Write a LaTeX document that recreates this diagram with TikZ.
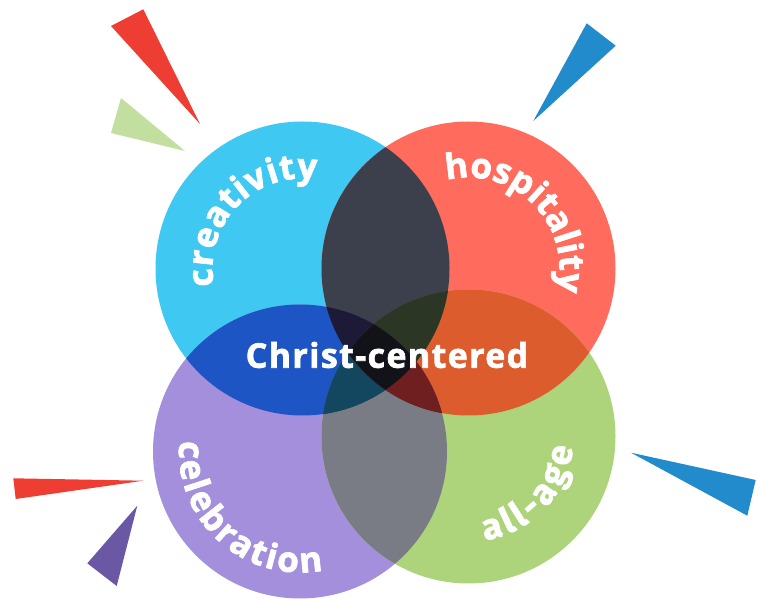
\documentclass[tikz,border=0pt]{standalone}
\usepackage{fontspec}
\setmainfont{Open Sans}[BoldFont={Open Sans Bold},BoldFeatures={FakeBold=2}]
\newfontfamily\firafont{Fira Sans}[BoldFont={Fira Sans Bold},BoldFeatures={FakeBold=1.5}]
\usetikzlibrary{decorations.text}

\definecolor{skyblue}{HTML}{3EC8F2}
\definecolor{salmon}{HTML}{FF6B5C}
\definecolor{lavender}{HTML}{A38FDC}
\definecolor{leafgreen}{HTML}{ADD37B}
\definecolor{slate}{HTML}{3C404C}
\definecolor{royal}{HTML}{1D55C4}
\definecolor{rust}{HTML}{DC5C2D}
\definecolor{stone}{HTML}{797C84}
\definecolor{moss}{HTML}{24402F}
\definecolor{plum}{HTML}{4A2035}
\definecolor{darkmoss}{HTML}{2B3625}
\definecolor{navy}{HTML}{1D1A38}
\definecolor{teal}{HTML}{13465F}
\definecolor{wine}{HTML}{6F1F20}
\definecolor{ink}{HTML}{111319}
\definecolor{spikered}{HTML}{EE3E33}
\definecolor{spikegreen}{HTML}{C2DFA0}
\definecolor{spikeblue}{HTML}{218BCB}
\definecolor{spikepurple}{HTML}{6A58A5}

\begin{document}
\begin{tikzpicture}[x=1pt,y=1pt,
    word/.style={decorate,decoration={text along path,text align=fit to path,
      text color=white,text={#1}}},
    bigword/.style={text=white,font=\bfseries\fontsize{34}{34}\selectfont\addfontfeature{LetterSpace=4}}]
  \useasboundingbox (0,0) rectangle (763,600);
  % spikes
  \fill[spikered] (111,574) -- (143.3,590.7) -- (200,476) -- cycle;
  \fill[spikegreen] (121,502) -- (111,467) -- (185,449) -- cycle;
  \fill[spikeblue] (586.7,576.7) -- (615.7,554.3) -- (533.3,479) -- cycle;
  \fill[spikered] (13.3,121.7) -- (15.7,101) -- (143.3,119.3) -- cycle;
  \fill[spikepurple] (137.3,94.3) -- (87.3,36.7) -- (116.7,14) -- cycle;
  \fill[spikeblue] (631,147.3) -- (755.7,120) -- (747.3,84.3) -- cycle;
  % circles
  \coordinate (cre) at (302.5,331.5);
  \coordinate (hos) at (468.5,331.5);
  \coordinate (cel) at (300,148.5);
  \coordinate (age) at (468.5,163.5);
  \foreach \p/\col in {cre/skyblue,hos/salmon,cel/lavender,age/leafgreen}
    \fill[\col] (\p) circle[radius=147pt];
  % overlaps of two
  \foreach \a/\b/\col in {cre/hos/slate,cre/cel/royal,hos/age/rust,cel/age/stone,cre/age/moss,hos/cel/plum}
  {\begin{scope}
    \clip (\a) circle[radius=147pt];
    \fill[\col] (\b) circle[radius=147pt];
  \end{scope}}
  % overlaps of three
  \foreach \a/\b/\d/\col in {cre/hos/age/darkmoss,cre/hos/cel/navy,cre/cel/age/teal,hos/cel/age/wine}
  {\begin{scope}
    \clip (\a) circle[radius=147pt];
    \clip (\b) circle[radius=147pt];
    \fill[\col] (\d) circle[radius=147pt];
  \end{scope}}
  % all four
  \begin{scope}
    \clip (cre) circle[radius=147pt];
    \clip (hos) circle[radius=147pt];
    \clip (cel) circle[radius=147pt];
    \fill[ink] (age) circle[radius=147pt];
  \end{scope}
  % words
  \path[word={|\bfseries\fontsize{35}{35}\selectfont|creativity},shift={(cre)}]
    (191:90) arc[start angle=191,end angle=81,radius=90];
  \path[word={|\bfseries\fontsize{35}{35}\selectfont|hospitality},shift={(hos)}]
    (104:91) arc[start angle=104,end angle=-13,radius=91];
  \path[word={|\bfseries\fontsize{35}{35}\selectfont|celebration},shift={(cel)}]
    (175:121) arc[start angle=175,end angle=281,radius=121];
  \path[word={|\firafont\bfseries\fontsize{36}{36}\selectfont|all-age},shift={(age)}]
    (-81:105) arc[start angle=-81,end angle=-6,radius=105];
  \node[bigword] (mid) at (387,245) {Christ-centered};
\end{tikzpicture}
\end{document}
